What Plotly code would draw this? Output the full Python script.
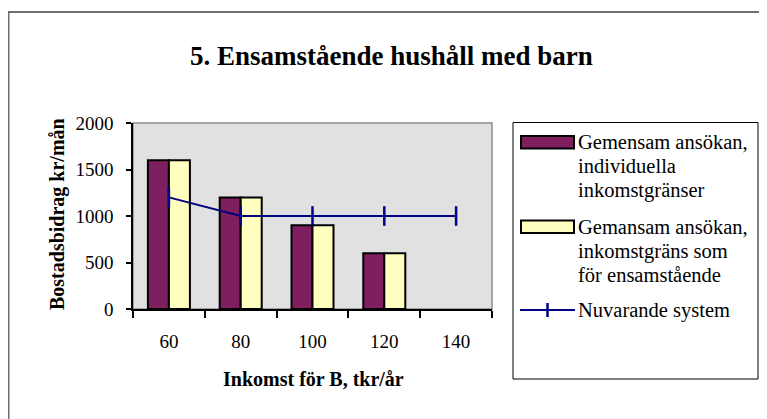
import plotly.graph_objects as go

# ---- data ----
categories = ["60", "80", "100", "120", "140"]
individuella = [1600, 1200, 900, 600, None]
ensamstaende = [1600, 1200, 900, 600, None]
nuvarande = [1200, 1000, 1000, 1000, 1000]

series_names = [
    ["Gemensam ansökan,", "individuella", "inkomstgränser"],
    ["Gemansam ansökan,", "inkomstgräns som", "för ensamstående"],
    ["Nuvarande system"],
]
title_text = "5. Ensamstående hushåll med barn"
x_title = "Inkomst för B, tkr/år"
y_title = "Bostadsbidrag kr/mån"

# ---- style ----
VW, VH = 767, 419          # browser window
OFF = 8                    # default page body margin
W, H = VW - OFF, VH - OFF
L, R, T, B = 133, 492, 123, 309   # plot area in window pixels
PURPLE = "#7F1F5F"
YELLOW = "#FFFFC0"
NAVY = "#000080"
FONT = "Liberation Serif, Times New Roman, serif"


def px(x):
    return (x - L) / (R - L)


def py(y):
    return (B - y) / (B - T)


fig = go.Figure()
fig.add_trace(go.Bar(x=categories, y=individuella, name=" ".join(series_names[0]),
                     marker=dict(color=PURPLE, line=dict(color="black", width=2)),
                     showlegend=False))
fig.add_trace(go.Bar(x=categories, y=ensamstaende, name=" ".join(series_names[1]),
                     marker=dict(color=YELLOW, line=dict(color="black", width=2)),
                     showlegend=False))
fig.add_trace(go.Scatter(x=categories, y=nuvarande, name=series_names[2][0],
                         mode="lines+markers",
                         line=dict(color=NAVY, width=2),
                         marker=dict(symbol="line-ns", size=14,
                                     line=dict(color=NAVY, width=2.5)),
                         showlegend=False))

shapes = []
# outer chart frame
shapes.append(dict(type="rect", xref="paper", yref="paper",
                   x0=px(8.5), x1=px(900), y0=py(12), y1=py(600),
                   line=dict(color="#707070", width=2), layer="below"))
# plot area border (gray top/right)
shapes.append(dict(type="rect", xref="paper", yref="paper",
                   x0=0, x1=1, y0=0, y1=1,
                   line=dict(color="#8C8C8C", width=1.5), layer="below"))
# legend box
shapes.append(dict(type="rect", xref="paper", yref="paper",
                   x0=px(513), x1=px(758), y0=py(122.5), y1=py(379),
                   line=dict(color="black", width=1), fillcolor="white"))
# legend swatches
shapes.append(dict(type="rect", xref="paper", yref="paper",
                   x0=px(521), x1=px(574), y0=py(136), y1=py(148.5),
                   line=dict(color="black", width=2), fillcolor=PURPLE))
shapes.append(dict(type="rect", xref="paper", yref="paper",
                   x0=px(521), x1=px(574), y0=py(220.5), y1=py(233),
                   line=dict(color="black", width=2), fillcolor=YELLOW))
shapes.append(dict(type="line", xref="paper", yref="paper",
                   x0=px(520), x1=px(575), y0=py(310), y1=py(310),
                   line=dict(color=NAVY, width=2)))
shapes.append(dict(type="line", xref="paper", yref="paper",
                   x0=px(547.5), x1=px(547.5), y0=py(303), y1=py(317),
                   line=dict(color=NAVY, width=2.5)))

annotations = []
leg_font = dict(family=FONT, size=20.5, color="black")
line_y = [[142, 166, 190], [227, 251, 275], [310]]
for names, ys in zip(series_names, line_y):
    for t, yy in zip(names, ys):
        annotations.append(dict(text=t, xref="paper", yref="paper",
                                x=px(576), y=py(yy), xanchor="left", yanchor="middle",
                                showarrow=False, font=leg_font))
annotations.append(dict(text="<b>" + title_text + "</b>", xref="paper", yref="paper",
                        x=px(391), y=py(56), xanchor="center", yanchor="middle",
                        showarrow=False, font=dict(family=FONT, size=27, color="black")))
annotations.append(dict(text="<b>" + x_title + "</b>", xref="paper", yref="paper",
                        x=px(313), y=py(379), xanchor="center", yanchor="middle",
                        showarrow=False, font=dict(family=FONT, size=20, color="black")))
annotations.append(dict(text="<b>" + y_title + "</b>", xref="paper", yref="paper",
                        x=px(57), y=py(214), xanchor="center", yanchor="middle",
                        textangle=-90,
                        showarrow=False, font=dict(family=FONT, size=20, color="black")))

fig.update_layout(
    template="none",
    width=W, height=H,
    margin=dict(l=L - OFF, r=W - (R - OFF), t=T - OFF, b=H - (B - OFF), pad=0),
    paper_bgcolor="white",
    plot_bgcolor="#E1E1E1",
    barmode="group",
    bargap=0.415,
    bargroupgap=0,
    showlegend=False,
    font=dict(family=FONT, size=19, color="black"),
    shapes=shapes,
    annotations=annotations,
    xaxis=dict(type="category", showgrid=False, zeroline=False,
               showline=True, linecolor="black", linewidth=1.5,
               ticks="outside", ticklen=7, tickwidth=1.5, tickcolor="black",
               tickson="boundaries", ticklabelstandoff=14,
               tickfont=dict(family=FONT, size=19, color="black"),
               automargin=False),
    yaxis=dict(range=[0, 2000], dtick=500, showgrid=False, zeroline=False,
               showline=True, linecolor="black", linewidth=1.5,
               ticks="outside", ticklen=5, tickwidth=1.5, tickcolor="black",
               ticklabelstandoff=9,
               tickfont=dict(family=FONT, size=19, color="black"),
               automargin=False),
)

fig.write_html("out.html")
